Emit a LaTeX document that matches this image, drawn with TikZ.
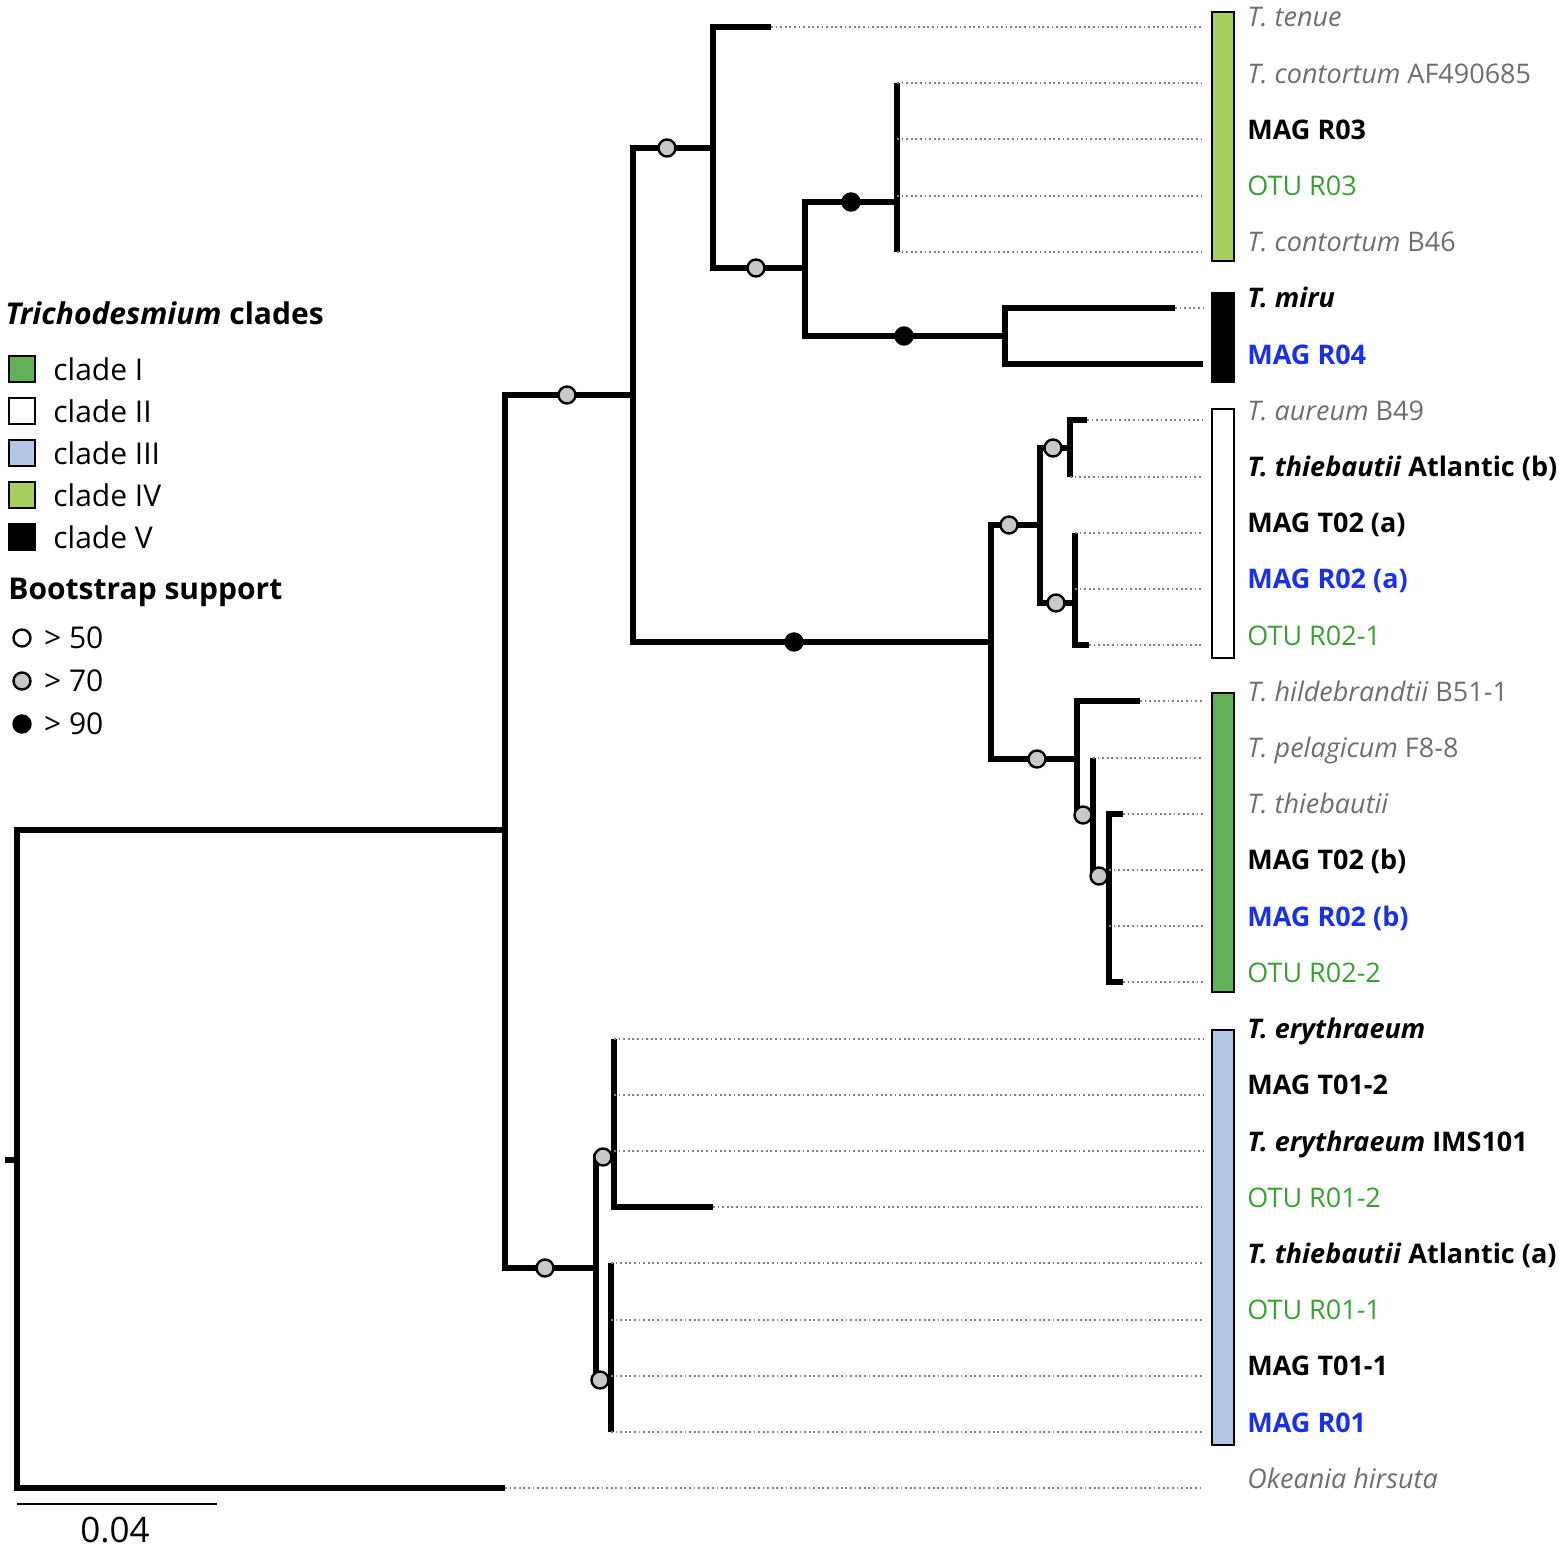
\documentclass[tikz,border=0pt]{standalone}
\usepackage{fontspec}
\setmainfont{Open Sans}
\usetikzlibrary{positioning}
\definecolor{cladeI}{HTML}{62B15A}
\definecolor{cladeIII}{HTML}{B4C6E7}
\definecolor{cladeIV}{HTML}{A6D05F}
\definecolor{taxgray}{HTML}{6E6E6E}
\definecolor{otugreen}{HTML}{3C9E36}
\definecolor{magblue}{HTML}{1A30F0}
\definecolor{bsgray}{HTML}{C8C8C8}
\newcommand{\tipfont}{\fontsize{13.5}{16}\selectfont}
\newcommand{\legfont}{\fontsize{15}{18}\selectfont}

\begin{document}
\begin{tikzpicture}[x=0.5pt,y=-0.5pt,
    branch/.style={line width=3.1pt},
    leader/.style={black!50, line width=1pt, dash pattern=on 0.9pt off 1.4pt},
    cladebar/.style={draw=black, line width=1pt},
    taxon/.style={anchor=base west, inner sep=0pt, font=\tipfont},
    refsp/.style={text=taxgray},
    magT/.style={text=black, font=\tipfont\bfseries},
    magR/.style={text=magblue, font=\tipfont\bfseries},
    otu/.style={text=otugreen},
    bs50/.style={circle, draw, line width=1.2pt, fill=white, inner sep=0pt, minimum size=8.5pt},
    bs70/.style={bs50, fill=bsgray},
    bs90/.style={bs50, fill=black},
    swatch/.style={draw, line width=1pt, inner sep=0pt, minimum size=13pt},
    legtext/.style={anchor=west, inner sep=0pt, font=\legfont}]
  \useasboundingbox (0,0) rectangle (1559,1550);

  \coordinate (rootstub) at (5,1160);
  \coordinate (root) at (17,1160);
  \coordinate (nA) at (505,830);
  \coordinate (nB) at (633,395);
  \coordinate (nC) at (713,148);
  \coordinate (nD) at (805,268);
  \coordinate (nE) at (897,202);
  \coordinate (nF) at (1005,336);
  \coordinate (nG) at (991,642);
  \coordinate (nH) at (1040,525);
  \coordinate (nI) at (1070,448);
  \coordinate (nJ) at (1075,603);
  \coordinate (nK) at (1077,759);
  \coordinate (nL) at (1093,815);
  \coordinate (nM) at (1109,876);
  \coordinate (nN) at (596,1268);
  \coordinate (nO) at (614,1157);
  \coordinate (nP) at (611,1380);

  \foreach \k/\x in {0/771, 1/897, 2/897, 3/897, 4/897, 5/1175, 6/1203,
      7/1087, 8/1070, 9/1075, 10/1075, 11/1089, 12/1140, 13/1093,
      14/1123, 15/1109, 16/1109, 17/1123, 18/614, 19/614, 20/614,
      21/713, 22/611, 23/611, 24/611, 25/611, 26/505}
    \coordinate (t\k) at (\x,27+56.2*\k);
  \coordinate (leadend) at (1203,0);
  \coordinate (labx) at (1247,0);

  \draw[branch] (rootstub) -- (root);
  \foreach \a/\b in {root/nA, root/t26, nA/nB, nA/nN, nB/nC, nB/nG,
      nC/t0, nC/nD, nD/nE, nD/nF, nE/t1, nE/t2, nE/t3, nE/t4, nF/t5, nF/t6,
      nG/nH, nG/nK, nH/nI, nH/nJ, nI/t7, nI/t8, nJ/t9, nJ/t10, nJ/t11,
      nK/t12, nK/nL, nL/t13, nL/nM, nM/t14, nM/t15, nM/t16, nM/t17,
      nN/nO, nN/nP, nO/t18, nO/t19, nO/t20, nO/t21,
      nP/t22, nP/t23, nP/t24, nP/t25}
    \draw[branch] (\a) |- (\b);

  \node[bs70] (s1) at (567,395) {};
  \node[bs70] (s2) at (667,148) {};
  \node[bs70] (s3) at (756,268) {};
  \node[bs90] (s4) at (851,202) {};
  \node[bs90] (s5) at (904,336) {};
  \node[bs90] (s6) at (794,642) {};
  \node[bs70] (s7) at (1009,525) {};
  \node[bs70] (s8) at (1053,448) {};
  \node[bs70] (s9) at (1056,603) {};
  \node[bs70] (s10) at (1037,759) {};
  \node[bs70] (s11) at (1083,815) {};
  \node[bs70] (s12) at (1099,876) {};
  \node[bs70] (s13) at (545,1268) {};
  \node[bs70] (s14) at (603,1157) {};
  \node[bs70] (s15) at (600,1380) {};

  \draw[cladebar, fill=cladeIV] (1212,12) rectangle (1234,261);
  \draw[cladebar, fill=black] (1212,293) rectangle (1234,382);
  \draw[cladebar, fill=white] (1212,409) rectangle (1234,658);
  \draw[cladebar, fill=cladeI] (1212,693) rectangle (1234,992);
  \draw[cladebar, fill=cladeIII] (1212,1030) rectangle (1234,1445);

  \foreach \k/\sty/\txt in {
      0/refsp/{\textit{T. tenue}},
      1/refsp/{\textit{T. contortum} AF490685},
      2/magT/{MAG R03},
      3/otu/{OTU R03},
      4/refsp/{\textit{T. contortum} B46},
      5/magT/{\textit{T. miru}},
      6/magR/{MAG R04},
      7/refsp/{\textit{T. aureum} B49},
      8/magT/{\textit{T. thiebautii} Atlantic (b)},
      9/magT/{MAG T02 (a)},
      10/magR/{MAG R02 (a)},
      11/otu/{OTU R02-1},
      12/refsp/{\textit{T. hildebrandtii} B51-1},
      13/refsp/{\textit{T. pelagicum} F8-8},
      14/refsp/{\textit{T. thiebautii}},
      15/magT/{MAG T02 (b)},
      16/magR/{MAG R02 (b)},
      17/otu/{OTU R02-2},
      18/magT/{\textit{T. erythraeum}},
      19/magT/{MAG T01-2},
      20/magT/{\textit{T. erythraeum} IMS101},
      21/otu/{OTU R01-2},
      22/magT/{\textit{T. thiebautii} Atlantic (a)},
      23/otu/{OTU R01-1},
      24/magT/{MAG T01-1},
      25/magR/{MAG R01},
      26/refsp/{\textit{Okeania hirsuta}}}{
    \draw[leader] (t\k) -- (t\k -| leadend);
    \node[taxon, \sty] (lab\k) at (t\k -| labx) {\txt};
  }

  \node[anchor=base west, inner sep=0pt, font=\legfont\bfseries] (cladetitle) at (5,325) {\textit{Trichodesmium} clades};
  \foreach \k/\col/\txt in {0/cladeI/clade I, 1/white/clade II, 2/cladeIII/clade III,
      3/cladeIV/clade IV, 4/black/clade V} {
    \node[swatch, fill=\col] (sw\k) at (22,369+42*\k) {};
    \node[legtext, right=8.5pt of sw\k] (cl\k) {\txt};
  }
  \node[anchor=base west, inner sep=0pt, font=\legfont\bfseries] (bstitle) at (8,600) {Bootstrap support};
  \foreach \k/\sty/\txt in {0/bs50/> 50, 1/bs70/> 70, 2/bs90/> 90} {
    \node[\sty] (lb\k) at (22,638+43*\k) {};
    \node[legtext, right=6pt of lb\k] (lt\k) {\txt};
  }

  \coordinate (sbl) at (17,1504);
  \coordinate (sbr) at (217,1504);
  \draw[line width=1pt] (sbl) -- (sbr);
  \node[anchor=base, inner sep=0pt, font=\fontsize{17.5}{20}\selectfont] (sblab) at (115,1542) {0.04};
\end{tikzpicture}
\end{document}
